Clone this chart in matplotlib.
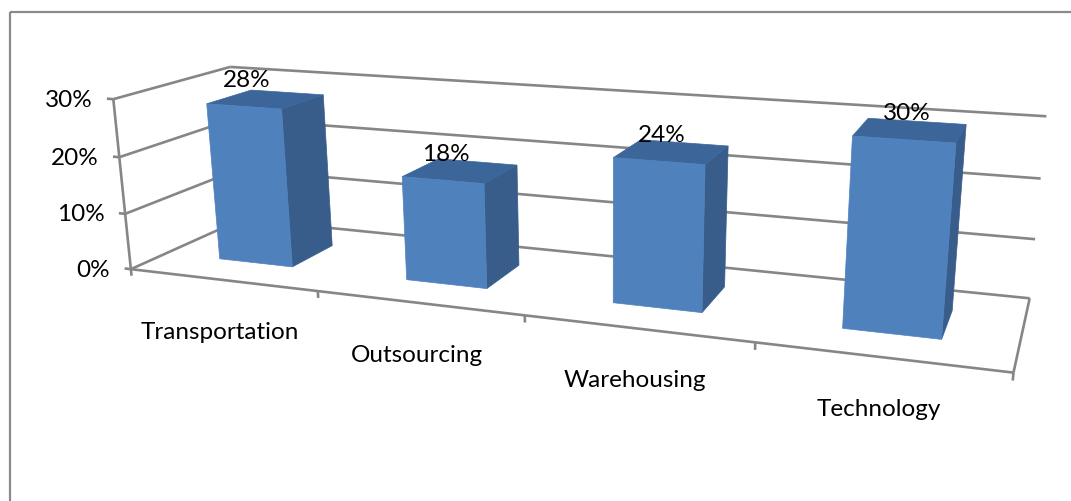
import numpy as np
from matplotlib import pyplot as plt
from matplotlib.patches import Polygon, Rectangle

# chart data
categories = ['Transportation', 'Outsourcing', 'Warehousing', 'Technology']
shares = [28, 18, 24, 30]            # percent
value_ticks = [0, 10, 20, 30]
value_labels = ['0%', '10%', '20%', '30%']

W, H = 1071, 502
GRID = '#868686'
FRONT, SIDE, TOP = '#4F81BD', '#385D8A', '#3C6699'
FONT = 'Lato'
FS = 17.5

# box corners (category, depth, value/10) and where they land on the canvas,
# used to solve the perspective camera of the 3-d box
calib_world = [(0, 0, 0), (0, 0, 1), (0, 0, 2), (0, 0, 3), (0, 1, 3),
               (4, 1, 0), (4, 1, 1), (4, 1, 2), (4, 1, 3), (4, 0, 0),
               (1, 0, 0), (2, 0, 0), (3, 0, 0)]
calib_canvas = [(133, 270), (122, 214), (117, 158), (116, 100), (230, 69),
                (1030, 299), (1035, 240), (1040, 179), (1047, 117), (1013, 375),
                (319, 292), (525, 317), (755, 343)]

C0, S0 = np.array([540.0, 250.0]), 300.0


def fit_camera(world, canvas):
    # plain DLT, canvas coords normalised first
    uv = (np.asarray(canvas, float) - C0) / S0
    rows = []
    for (X, Y, Z), (u, v) in zip(world, uv):
        p = [X, Y, Z, 1.0]
        rows.append(p + [0, 0, 0, 0] + [-u * c for c in p])
        rows.append([0, 0, 0, 0] + p + [-v * c for c in p])
    _, _, vt = np.linalg.svd(np.array(rows))
    return vt[-1].reshape(3, 4)


P = fit_camera(calib_world, calib_canvas)


def project(pts):
    pts = np.atleast_2d(np.asarray(pts, float))
    h = np.hstack([pts, np.ones((len(pts), 1))]) @ P.T
    return h[:, :2] / h[:, 2:3] * S0 + C0


fig = plt.figure(figsize=(W / 100, H / 100), dpi=100)
ax = fig.add_axes([0, 0, 1, 1])
ax.set_xlim(0, W)
ax.set_ylim(H, 0)
ax.axis('off')

# outer chart frame
ax.add_patch(Rectangle((9.5, 12.5), W + 20, H + 20, fill=False,
                       edgecolor='#8A8A8A', lw=1.6))


def seg(a, b, **kw):
    xy = project([a, b])
    ax.plot(xy[:, 0], xy[:, 1], color=GRID, lw=1.9, solid_capstyle='butt', **kw)


n = len(categories)

# walls: side wall + back wall gridlines
for t in value_ticks:
    z = t / 10
    seg((0, 0, z), (0, 1, z))
    seg((0, 1, z), (n, 1, z))
    seg((0, 0, z), (-0.035, 0, z))

# value axis and floor edges
seg((0, 0, 0), (0, 0, value_ticks[-1] / 10))
seg((0, 0, 0), (n, 0, 0))
seg((n, 0, 0), (n, 1, 0))
for c in range(n + 1):
    seg((c, 0, 0), (c, 0, -0.12))

for t, lab in zip(value_ticks, value_labels):
    u, v = project((0, 0, t / 10))[0]
    ax.annotate(lab, (u, v), xytext=(-15, 0), textcoords='offset points',
                ha='right', va='center', fontsize=FS, family=FONT)

# bars
x_pad, d0, d1 = 0.3, 0.3, 0.7
for c, (name, val) in enumerate(zip(categories, shares)):
    x0, x1, z = c + x_pad, c + 1 - x_pad, val / 10
    front = [(x0, d0, 0), (x1, d0, 0), (x1, d0, z), (x0, d0, z)]
    side = [(x1, d0, 0), (x1, d1, 0), (x1, d1, z), (x1, d0, z)]
    top = [(x0, d0, z), (x1, d0, z), (x1, d1, z), (x0, d1, z)]
    for face, col in ((side, SIDE), (top, TOP), (front, FRONT)):
        ax.add_patch(Polygon(project(face), closed=True, facecolor=col,
                             edgecolor=col, lw=0.5, zorder=3))

    # value label above the top front edge
    u, v = project((c + 0.5, d0, z))[0]
    ax.annotate(f'{val}%', (u, v), xytext=(2, 19.5), textcoords='offset points',
                ha='center', va='center', fontsize=FS, family=FONT, zorder=4)

    # category label under the floor
    u, v = project((c + 0.5, 0, 0))[0]
    ax.annotate(name, (u, v), xytext=(-1.5, -37), textcoords='offset points',
                ha='center', va='center', fontsize=FS, family=FONT)

fig.savefig('out.png', dpi=100)
